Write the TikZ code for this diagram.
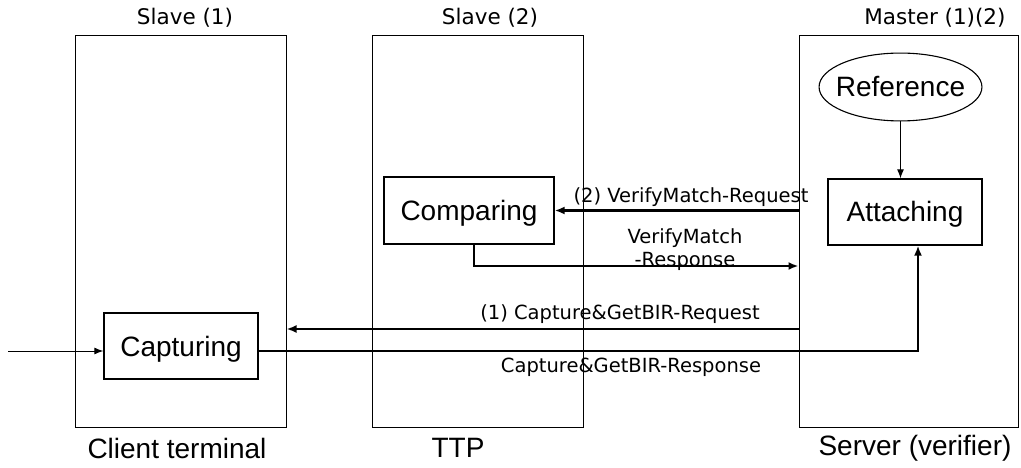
\documentclass[tikz,border=0pt]{standalone}
\usepackage{fontspec}
\setmainfont{Liberation Sans}
\newfontfamily\tagfont{DejaVu Sans}
\usetikzlibrary{arrows.meta,shapes.geometric,calc}
\begin{document}
\begin{tikzpicture}[x=1pt,y=-1pt,
  lane/.style={draw, line width=1pt, minimum height=391pt, inner sep=0pt},
  stepbox/.style={draw, line width=1.3pt, inner sep=0pt,
    font=\fontsize{28}{32}\selectfont, text height=20pt, text depth=0pt},
  flow/.style={line width=2.6pt, -{Latex[length=10pt,width=8pt]}},
  feed/.style={line width=1pt, -{Latex[length=9pt,width=7pt]}},
  msg/.style={font=\tagfont\fontsize{19.5}{23}\selectfont, inner sep=0pt, anchor=base},
  role/.style={font=\tagfont\fontsize{21.5}{25}\selectfont, inner sep=0pt},
  sitelabel/.style={font=\fontsize{28}{32}\selectfont, inner sep=0pt}]

\useasboundingbox (0,0) rectangle (1021,468);

% swim lanes
\node[lane, minimum width=211pt] (lane1) at (180.5,231.5) {};
\node[lane, minimum width=211pt] (lane2) at (477.5,231.5) {};
\node[lane, minimum width=219pt] (lane3) at (908.5,231.5) {};

% roles above the lanes
\node[role] (role1) at (185,18) {Slave (1)};
\node[role] (role2) at (490,18) {Slave (2)};
\node[role] (role3) at (935,18) {Master (1)(2)};

% parties below the lanes
\node[sitelabel] (site1) at (177,448) {Client terminal};
\node[sitelabel] (site2) at (458,448) {TTP};
\node[sitelabel] (site3) at (915,448) {Server (verifier)};

% processing steps
\node[stepbox, minimum width=170pt, minimum height=67pt] (Comparing) at (469,210.5) {Comparing};
\node[stepbox, minimum width=154pt, minimum height=66pt] (Capturing) at (181,346) {Capturing};
\node[stepbox, minimum width=154pt, minimum height=66pt] (Attaching) at (905,212) {Attaching};
\node[draw, ellipse, line width=1.1pt, inner xsep=-7pt, inner ysep=14pt,
  font=\fontsize{28}{32}\selectfont, text height=20pt, text depth=0pt] (Reference) at (900.5,87) {Reference};

% message levels
\coordinate (vmlevel) at (0,266);
\coordinate (crlevel) at (0,329);
\coordinate (src) at (8,351);

% connectors
\draw[feed] (Reference.south) -- (Reference.south |- Attaching.north);
\draw[flow] (lane3.west |- Comparing.east) -- (Comparing.east);
\draw[flow] ([xshift=5pt]Comparing.south) |- (lane3.west |- vmlevel);
\draw[flow] (lane3.west |- crlevel) -- (lane1.east |- crlevel);
\draw[flow] ([yshift=-5pt]Capturing.east) -| ([xshift=13pt]Attaching.south);
\draw[feed] (src) -- ([yshift=-5pt]Capturing.west);

% message labels (placed by baseline; the two-line label by its last line)
\node[msg] (reqVM) at (691,203) {(2) VerifyMatch-Request};
\node[msg, align=center] (respVM) at (685,266) {VerifyMatch\\-Response};
\node[msg] (reqCap) at (620,319) {(1) Capture\&GetBIR-Request};
\node[msg] (respCap) at (631,372) {Capture\&GetBIR-Response};
\end{tikzpicture}
\end{document}
